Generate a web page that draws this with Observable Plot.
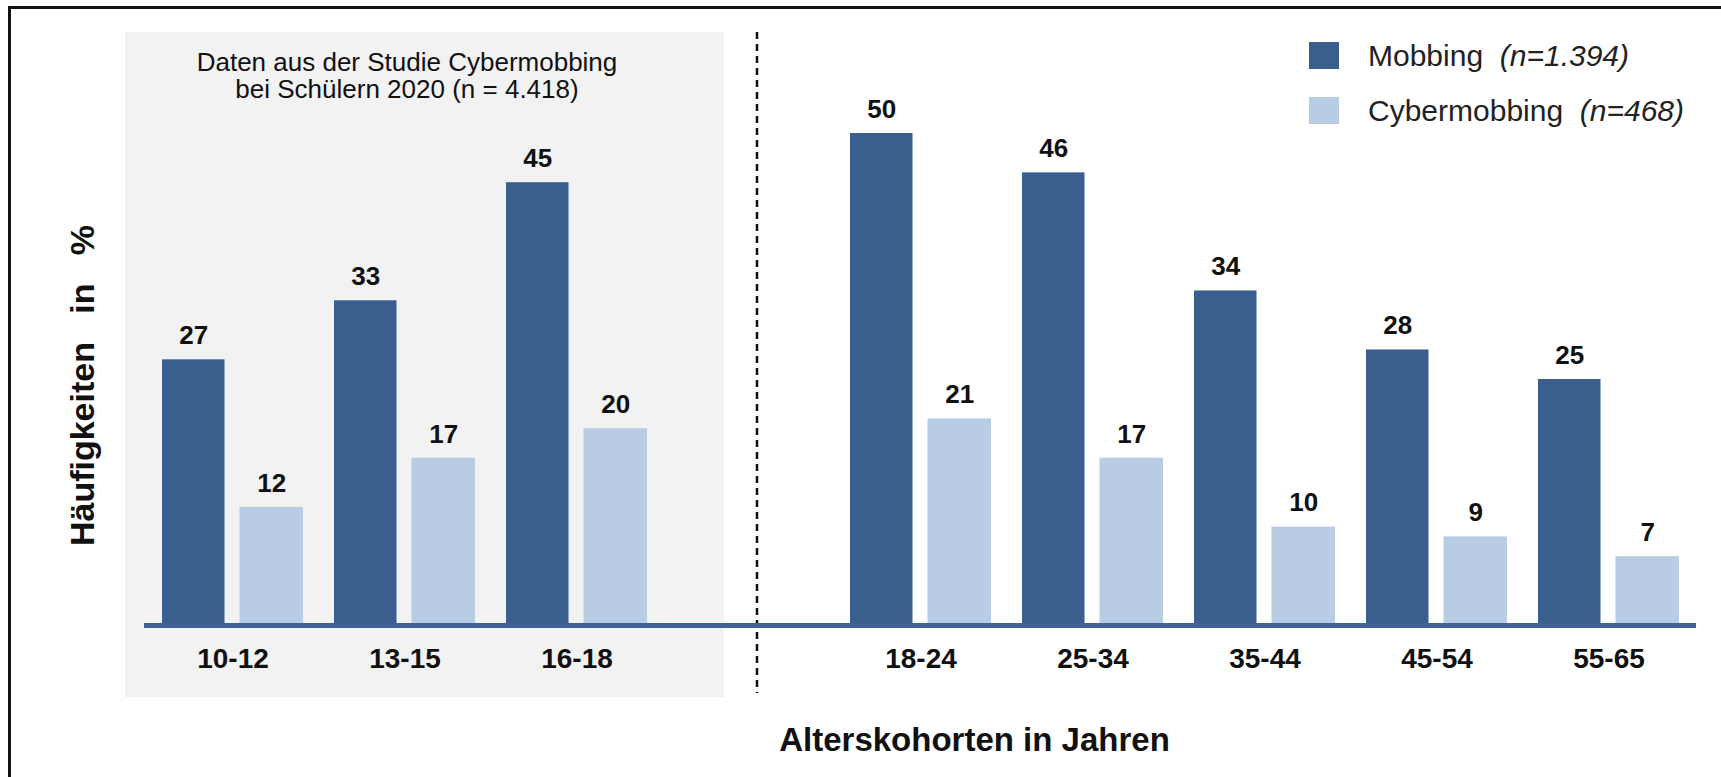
<!DOCTYPE html>
<html>
<head>
<meta charset="utf-8">
<script src="https://cdn.jsdelivr.net/npm/d3@7"></script>
<script src="https://cdn.jsdelivr.net/npm/@observablehq/plot@0.6"></script>
<style>
  html, body { margin: 0; padding: 0; background: #fff; }
  #wrap { position: relative; width: 1721px; height: 777px; overflow: hidden; font-family: "Liberation Sans", Arial, sans-serif; }
  #frame { position: absolute; left: 8px; top: 6px; right: -20px; bottom: -20px; border-top: 3px solid #111; border-left: 3px solid #111; pointer-events: none; }
  .lg { position: absolute; left: 1309px; height: 27px; display: flex; align-items: center; font-size: 30px; color: #222; white-space: pre; }
  .lg .sw { width: 30px; height: 27px; margin-right: 29px; flex: none; }
  .lg i { font-style: italic; }
</style>
</head>
<body>
<div id="wrap"><div id="chart"></div><div id="frame"></div><div id="legend"></div></div>
<script>
// ---- data ----
const cohorts = ["10-12", "13-15", "16-18", "18-24", "25-34", "35-44", "45-54", "55-65"];
const mobbing = [27, 33, 45, 50, 46, 34, 28, 25];
const cyber = [12, 17, 20, 21, 17, 10, 9, 7];
const seriesNames = ["Mobbing", "Cybermobbing"];
const seriesN = ["n=1.394", "n=468"];
const seriesColors = ["#3a5f8f", "#b8cce4"];
const xDomain = ["10-12", "13-15", "16-18", "", "18-24", "25-34", "35-44", "45-54", "55-65"];
const studyCohorts = ["10-12", "13-15", "16-18"];
const studyTitle = "Daten aus der Studie Cybermobbing\nbei Schülern 2020 (n = 4.418)";
const yTitle = "Häufigkeiten\u00a0\u00a0\u00a0in\u00a0\u00a0\u00a0%";
const xTitle = "Alterskohorten in Jahren";
const yMax = 50;

const rowsM = cohorts.map((c, i) => ({cohort: c, series: seriesNames[0], value: mobbing[i]}));
const rowsC = cohorts.map((c, i) => ({cohort: c, series: seriesNames[1], value: cyber[i]}));

const chart = Plot.plot({
  width: 1721,
  height: 777,
  marginLeft: 161,
  marginRight: 40,
  marginTop: 133,
  marginBottom: 152,
  style: {fontFamily: "'Liberation Sans', Arial, sans-serif", background: "transparent", color: "#111"},
  x: {type: "band", domain: xDomain, paddingInner: 0.18, paddingOuter: 0, axis: null},
  y: {domain: [0, yMax], axis: null},
  color: {domain: seriesNames, range: seriesColors},
  marks: [
    Plot.barY(studyCohorts, {x: d => d, y1: 0, y2: yMax, fill: "#f2f2f2",
      insetLeft: -37, insetRight: -77, insetTop: -101, insetBottom: -72}),
    Plot.ruleX([""], {x: d => d, stroke: "#111", strokeWidth: 2.5, strokeDasharray: "7,5",
      insetTop: -101, insetBottom: -68, dx: 8}),
    Plot.barY(rowsM, {x: "cohort", y: "value", fill: "series", insetRight: 78.5}),
    Plot.barY(rowsC, {x: "cohort", y: "value", fill: "series", insetLeft: 77.5}),
    Plot.ruleY([0], {stroke: "#3d6396", strokeWidth: 5, insetLeft: -17, insetRight: -15}),
    Plot.text(rowsM, {x: "cohort", y: "value", text: d => String(d.value), dx: -39.3, dy: -24,
      fontSize: 26, fontWeight: "bold", fill: "#111"}),
    Plot.text(rowsC, {x: "cohort", y: "value", text: d => String(d.value), dx: 38.8, dy: -24,
      fontSize: 26, fontWeight: "bold", fill: "#111"}),
    Plot.axisX({tickSize: 0, tickPadding: 23, fontSize: 28, fontWeight: "bold", fill: "#111", label: null}),
    Plot.text([{c: "13-15", t: studyTitle}], {x: "c", text: "t", frameAnchor: "top", dx: 2, dy: -57.5,
      lineAnchor: "middle", lineHeight: 1.05, fontSize: 26, fill: "#111"}),
    Plot.text([yTitle], {frameAnchor: "left", textAnchor: "middle", lineAnchor: "middle", rotate: -90, dx: -78, dy: 6,
      fontSize: 34, fontWeight: "bold", fill: "#111"}),
    Plot.text([xTitle], {frameAnchor: "bottom", dx: 53, dy: 115, lineAnchor: "middle",
      fontSize: 33, fontWeight: "bold", fill: "#111"})
  ]
});
document.getElementById("chart").appendChild(chart);

// legend
const legend = document.getElementById("legend");
const tops = [42, 97];
seriesNames.forEach((s, i) => {
  const row = document.createElement("div");
  row.className = "lg";
  row.style.top = tops[i] + "px";
  const sw = document.createElement("div");
  sw.className = "sw";
  sw.style.background = seriesColors[i];
  row.appendChild(sw);
  const t = document.createElement("span");
  t.innerHTML = s + "  <i>(" + seriesN[i] + ")</i>";
  row.appendChild(t);
  legend.appendChild(row);
});
</script>
</body>
</html>
